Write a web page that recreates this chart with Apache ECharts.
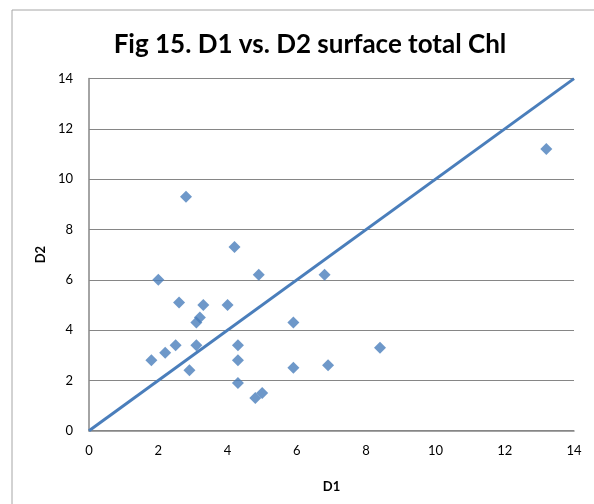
<!DOCTYPE html>
<html><head><meta charset="utf-8">
<script src="https://cdn.jsdelivr.net/npm/echarts@6/dist/echarts.min.js"></script>
<style>html,body{margin:0;padding:0;background:#fff}#c{width:594px;height:504px}</style>
</head><body><div id="c"></div>
<script>
var d1 = [2.8,4.2,2.0,4.9,6.8,2.6,3.3,4.0,3.2,3.1,5.9,2.5,3.1,4.3,2.2,1.8,4.3,6.9,5.9,2.9,4.3,5.0,4.8,8.4,13.2];
var d2 = [9.3,7.3,6.0,6.2,6.2,5.1,5.0,5.0,4.5,4.3,4.3,3.4,3.4,3.4,3.1,2.8,2.8,2.6,2.5,2.4,1.9,1.5,1.3,3.3,11.2];
var lineX = [0,14];
var lineY = [0,14];
var title = 'Fig 15. D1 vs. D2 surface total Chl';
var pts = d1.map(function(v,i){return [v,d2[i]];});
var linePts = lineX.map(function(v,i){return [v,lineY[i]];});
var font = 'Lato, "Open Sans", sans-serif';
var chart = echarts.init(document.getElementById('c'), null, {renderer:'canvas'});
chart.setOption({
  animation:false,
  backgroundColor:'#fff',
  title:{text:title,left:305,textAlign:'center',top:27,textStyle:{fontFamily:font,fontSize:26,fontWeight:'bold',color:'#000'}},
  graphic:[{type:'polyline',shape:{points:[[12,504],[12,10],[594,10]]},style:{stroke:'#a6a6a6',lineWidth:1,fill:null},silent:true}],
  grid:{left:89,right:20,top:78.6,bottom:73.3,containLabel:false},
  xAxis:{type:'value',min:0,max:14,interval:2,name:'D1',nameLocation:'middle',nameGap:50,
    nameTextStyle:{fontFamily:font,fontSize:13,fontWeight:'bold',color:'#000'},
    axisLine:{show:true,lineStyle:{color:'#868686',width:1.5}},axisTick:{show:false},
    axisLabel:{fontFamily:font,fontSize:13,color:'#000',margin:14},splitLine:{show:false}},
  yAxis:{type:'value',min:0,max:14,interval:2,name:'D2',nameLocation:'middle',nameGap:40,
    nameTextStyle:{fontFamily:font,fontSize:13,fontWeight:'bold',color:'#000'},
    axisLine:{show:true,lineStyle:{color:'#868686',width:1.5}},axisTick:{show:false},
    axisLabel:{fontFamily:font,fontSize:13,color:'#000',margin:16},
    splitLine:{show:true,lineStyle:{color:'#868686',width:1}}},
  series:[
    {type:'line',data:linePts,showSymbol:false,symbol:'none',lineStyle:{color:'#4a7ebb',width:3},z:2},
    {type:'scatter',data:pts,symbol:'diamond',symbolSize:12,itemStyle:{color:'#4a7ebb'},z:3}
  ]
});
</script></body></html>
